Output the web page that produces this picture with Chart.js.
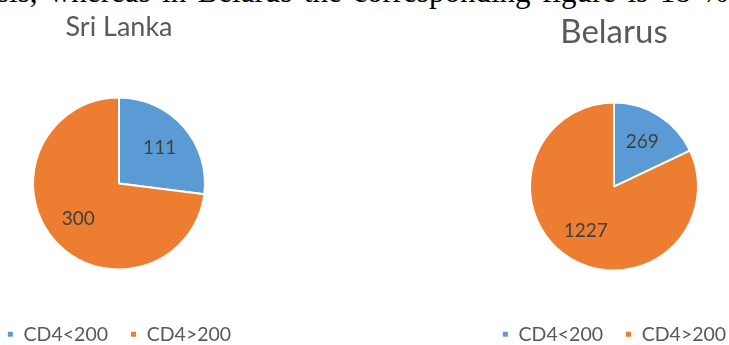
<!DOCTYPE html>
<html>
<head>
<meta charset="utf-8">
<script src="https://cdn.jsdelivr.net/npm/chart.js@4/dist/chart.umd.min.js"></script>
<style>
  html, body { margin: 0; padding: 0; background: #fff; width: 729px; height: 345px; overflow: hidden; position: relative; }
  .caption {
    position: absolute; left: -3px; top: -24px; width: 731px;
    font-family: "Liberation Serif", "Times New Roman", serif; font-size: 31px; line-height: 31px;
    color: #000; text-align: justify; text-align-last: justify;
  }
  .box { position: absolute; top: 0; width: 300px; height: 354px; }
</style>
</head>
<body>
<div class="caption">sis, whereas in Belarus the corresponding figure is 18 %</div>
<div class="box" style="left:-31px"><canvas id="lk"></canvas></div>
<div class="box" style="left:464px"><canvas id="by"></canvas></div>
<script>
// CD4 count groups
const categories = ['CD4<200', 'CD4>200'];
const sriLankaValues = [111, 300];
const belarusValues = [269, 1227];
const titles = ['Sri Lanka', 'Belarus'];

const sliceColors = ['#5B9BD5', '#ED7D31'];
const FONT = 'Lato, "Open Sans", sans-serif';

// Writes each slice's value inside the slice, along its middle angle
const sliceValueLabels = {
  id: 'sliceValueLabels',
  afterDatasetsDraw(chart) {
    const ctx = chart.ctx;
    const ds = chart.data.datasets[0];
    const meta = chart.getDatasetMeta(0);
    ctx.save();
    ctx.font = '19px ' + FONT;
    ctx.fillStyle = '#404040';
    ctx.textAlign = 'center';
    ctx.textBaseline = 'middle';
    meta.data.forEach((arc, i) => {
      const p = arc.getProps(['x', 'y', 'startAngle', 'endAngle', 'outerRadius'], true);
      const mid = (p.startAngle + p.endAngle) / 2;
      const r = p.outerRadius * 0.63;
      ctx.fillText(String(ds.data[i]), p.x + Math.cos(mid) * r, p.y + Math.sin(mid) * r);
    });
    ctx.restore();
  }
};

function makePie(id, title, values, opts) {
  return new Chart(document.getElementById(id), {
    type: 'pie',
    data: {
      labels: categories,
      datasets: [{
        data: values,
        backgroundColor: sliceColors,
        borderColor: '#ffffff',
        borderWidth: 2
      }]
    },
    options: {
      responsive: true,
      maintainAspectRatio: false,
      animation: false,
      radius: opts.radius,
      layout: { padding: 0 },
      plugins: {
        title: {
          display: true,
          text: title,
          color: '#595959',
          font: { family: FONT, size: opts.titleSize, weight: 'normal' },
          padding: { top: opts.titleTop, bottom: opts.titleBottom }
        },
        legend: {
          position: 'bottom',
          labels: {
            color: '#595959',
            font: { family: FONT, size: 19.5 },
            boxWidth: 7,
            boxHeight: 7,
            padding: 22
          }
        },
        tooltip: { enabled: false }
      }
    },
    plugins: [sliceValueLabels]
  });
}

makePie('lk', titles[0], sriLankaValues, { radius: 86, titleSize: 27, titleTop: 11, titleBottom: 21 });
makePie('by', titles[1], belarusValues, { radius: 84, titleSize: 33, titleTop: 13, titleBottom: 18 });
</script>
</body>
</html>
